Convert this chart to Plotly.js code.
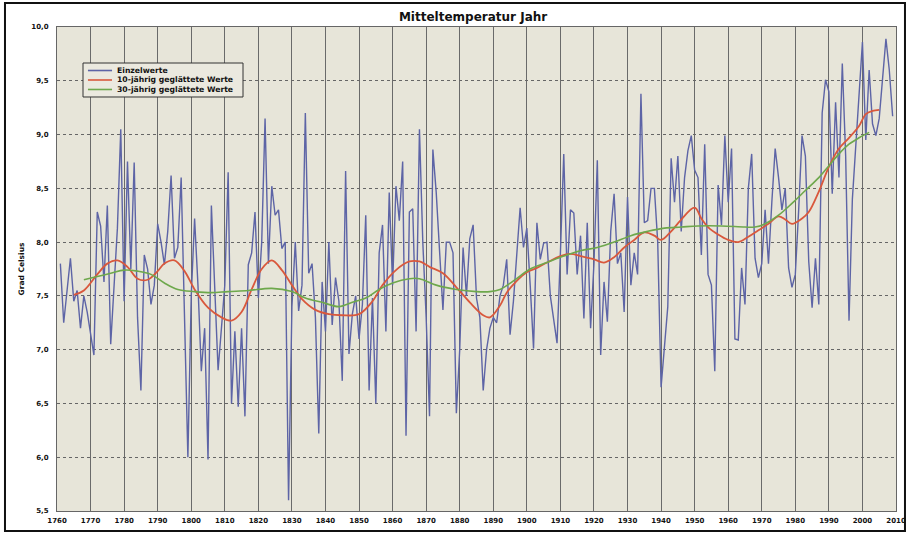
<!DOCTYPE html>
<html>
<head>
<meta charset="utf-8">
<script src="https://cdn.plot.ly/plotly-3.0.1.min.js"></script>
<style>
html,body{margin:0;padding:0;background:#ffffff;}
#chart{width:908px;height:540px;}
</style>
</head>
<body>
<div id="chart"></div>
<script>
// ---- data ----
const years = [
  1761,1762,1763,1764,1765,1766,1767,1768,1769,1770,
  1771,1772,1773,1774,1775,1776,1777,1778,1779,1780,
  1781,1782,1783,1784,1785,1786,1787,1788,1789,1790,
  1791,1792,1793,1794,1795,1796,1797,1798,1799,1800,
  1801,1802,1803,1804,1805,1806,1807,1808,1809,1810,
  1811,1812,1813,1814,1815,1816,1817,1818,1819,1820,
  1821,1822,1823,1824,1825,1826,1827,1828,1829,1830,
  1831,1832,1833,1834,1835,1836,1837,1838,1839,1840,
  1841,1842,1843,1844,1845,1846,1847,1848,1849,1850,
  1851,1852,1853,1854,1855,1856,1857,1858,1859,1860,
  1861,1862,1863,1864,1865,1866,1867,1868,1869,1870,
  1871,1872,1873,1874,1875,1876,1877,1878,1879,1880,
  1881,1882,1883,1884,1885,1886,1887,1888,1889,1890,
  1891,1892,1893,1894,1895,1896,1897,1898,1899,1900,
  1901,1902,1903,1904,1905,1906,1907,1908,1909,1910,
  1911,1912,1913,1914,1915,1916,1917,1918,1919,1920,
  1921,1922,1923,1924,1925,1926,1927,1928,1929,1930,
  1931,1932,1933,1934,1935,1936,1937,1938,1939,1940,
  1941,1942,1943,1944,1945,1946,1947,1948,1949,1950,
  1951,1952,1953,1954,1955,1956,1957,1958,1959,1960,
  1961,1962,1963,1964,1965,1966,1967,1968,1969,1970,
  1971,1972,1973,1974,1975,1976,1977,1978,1979,1980,
  1981,1982,1983,1984,1985,1986,1987,1988,1989,1990,
  1991,1992,1993,1994,1995,1996,1997,1998,1999,2000,
  2001,2002,2003,2004,2005,2006,2007,2008,2009
];
const einzelwerte = [
  7.80,7.25,7.55,7.85,7.45,7.55,7.20,7.50,7.35,7.15,
  6.95,8.28,8.15,7.63,8.34,7.05,7.60,8.13,9.05,7.45,
  8.75,7.75,8.74,7.30,6.62,7.88,7.75,7.42,7.60,8.17,
  8.00,7.79,8.10,8.62,7.85,7.95,8.60,7.30,6.00,7.50,
  8.22,7.60,6.80,7.20,5.98,8.34,7.60,6.81,7.20,7.60,
  8.65,6.50,7.17,6.47,7.20,6.38,7.79,7.90,8.28,7.48,
  8.00,9.15,7.80,8.52,8.25,8.30,7.94,8.00,5.60,7.40,
  8.00,7.36,7.60,9.20,7.71,7.80,7.30,6.22,7.63,7.17,
  8.00,7.23,7.67,7.45,6.71,8.66,6.96,7.33,7.50,7.10,
  7.42,8.25,6.62,7.48,6.50,7.90,8.16,7.17,8.46,7.60,
  8.52,8.20,8.75,6.20,8.28,8.31,7.17,9.05,8.00,7.30,
  6.38,8.86,8.46,7.91,7.37,8.00,8.00,7.90,6.41,7.00,
  7.95,7.50,8.03,8.16,7.48,7.30,6.62,7.00,7.20,7.30,
  7.25,7.50,7.60,7.84,7.14,7.45,7.90,8.32,7.95,8.13,
  7.60,7.01,8.18,7.84,7.99,8.00,7.50,7.30,7.06,7.90,
  8.82,7.70,8.30,8.27,7.70,8.06,7.29,8.18,7.20,7.80,
  8.76,6.95,7.63,7.26,8.10,8.45,7.80,7.90,7.35,8.42,
  7.60,7.90,7.70,9.38,8.18,8.20,8.50,8.50,8.00,6.65,
  7.07,7.40,8.78,8.37,8.80,8.10,8.60,8.85,8.99,8.67,
  8.60,7.88,8.91,7.70,7.60,6.80,8.53,8.16,8.99,8.37,
  8.87,7.10,7.09,7.76,7.42,8.50,8.82,7.85,7.67,7.80,
  8.30,7.80,8.37,8.87,8.60,8.30,8.50,7.76,7.58,7.70,
  8.30,8.99,8.80,7.82,7.39,7.85,7.42,9.20,9.51,9.40,
  8.45,9.30,8.60,9.66,8.80,7.27,8.40,8.90,9.40,9.86,
  8.95,9.60,9.10,8.99,9.15,9.50,9.89,9.60,9.17
];
const smooth10Years = [1765,1768,1772,1775,1778,1781,1784,1787,1790,1792,1795,1798,1801,1805,1809,1812,1815,1818,1821,1824,1827,1830,1833,1837,1841,1845,1850,1854,1857,1861,1865,1868,1871,1875,1879,1883,1887,1889,1892,1894,1897,1900,1903,1906,1910,1913,1916,1920,1923,1926,1929,1932,1935,1938,1940,1943,1946,1950,1952,1954,1957,1960,1963,1966,1969,1972,1975,1977,1979,1982,1984,1987,1990,1993,1996,1999,2001,2003,2005];
const smooth10 = [7.51,7.55,7.70,7.80,7.83,7.77,7.66,7.65,7.73,7.80,7.83,7.73,7.56,7.39,7.30,7.27,7.35,7.56,7.75,7.83,7.74,7.60,7.47,7.37,7.33,7.32,7.33,7.45,7.60,7.74,7.82,7.82,7.77,7.71,7.58,7.44,7.32,7.30,7.41,7.53,7.64,7.72,7.76,7.81,7.87,7.89,7.87,7.84,7.81,7.86,7.95,8.02,8.09,8.06,8.02,8.10,8.21,8.32,8.22,8.14,8.07,8.02,8.00,8.05,8.11,8.17,8.24,8.21,8.17,8.22,8.28,8.47,8.70,8.87,8.97,9.08,9.19,9.22,9.23];
const smooth30Years = [1768,1772,1776,1780,1784,1788,1792,1796,1801,1806,1811,1817,1824,1830,1834,1839,1844,1848,1852,1856,1860,1865,1868,1873,1879,1885,1889,1892,1896,1901,1906,1911,1916,1921,1926,1931,1936,1941,1946,1951,1958,1965,1968,1971,1975,1979,1983,1987,1990,1993,1996,1999,2002];
const smooth30 = [7.65,7.68,7.71,7.74,7.73,7.70,7.62,7.56,7.54,7.53,7.54,7.55,7.57,7.54,7.48,7.44,7.40,7.44,7.48,7.56,7.62,7.66,7.66,7.60,7.56,7.54,7.54,7.56,7.64,7.75,7.81,7.87,7.92,7.95,8.00,8.06,8.10,8.13,8.14,8.15,8.15,8.14,8.14,8.17,8.25,8.36,8.48,8.60,8.71,8.82,8.91,8.97,9.02];
const seriesNames = ['Einzelwerte','10-jährig geglättete Werte','30-jährig geglättete Werte'];
const seriesColors = ['#5d64a6', '#d9583c', '#6ea84c'];
const xTicks = [1760,1770,1780,1790,1800,1810,1820,1830,1840,1850,1860,1870,1880,1890,1900,1910,1920,1930,1940,1950,1960,1970,1980,1990,2000,2010];
const yTicks = [5.5,6.0,6.5,7.0,7.5,8.0,8.5,9.0,9.5,10.0];

const FONT = 'DejaVu Sans, Liberation Sans, Arial, sans-serif';

const traces = [
  {x: years, y: einzelwerte, name: seriesNames[0], type: 'scatter', mode: 'lines',
   line: {color: seriesColors[0], width: 1.4}},
  {x: smooth10Years, y: smooth10, name: seriesNames[1], type: 'scatter', mode: 'lines',
   line: {color: seriesColors[1], width: 1.8, shape: 'spline', smoothing: 1}},
  {x: smooth30Years, y: smooth30, name: seriesNames[2], type: 'scatter', mode: 'lines',
   line: {color: seriesColors[2], width: 1.6, shape: 'spline', smoothing: 1}}
];

// legend drawn as paper-anchored box, line samples and labels
const legBox = {x0: 0.031, x1: 0.2217, y0: 0.8554, y1: 0.9256};
const legRows = [0.9101, 0.8905, 0.8709];
const shapes = [
  {type: 'rect', xref: 'paper', yref: 'paper',
   x0: -0.062, x1: 1.0107, y0: -0.0413, y1: 1.0496,
   line: {color: '#111', width: 2}, fillcolor: 'rgba(0,0,0,0)', layer: 'below'},
  {type: 'rect', xref: 'paper', yref: 'paper',
   x0: legBox.x0, x1: legBox.x1, y0: legBox.y0, y1: legBox.y1,
   line: {color: '#333', width: 1}, fillcolor: '#ebe9df', layer: 'above'}
];
const annotations = [];
seriesNames.forEach((name, i) => {
  shapes.push({type: 'line', xref: 'paper', yref: 'paper',
    x0: 0.0369, x1: 0.0656, y0: legRows[i], y1: legRows[i],
    line: {color: seriesColors[i], width: 1.6}, layer: 'above'});
  annotations.push({xref: 'paper', yref: 'paper', x: 0.0691, y: legRows[i],
    xanchor: 'left', yanchor: 'middle', showarrow: false, text: name,
    font: {family: FONT, size: 7.7, weight: 'bold', color: '#111'}});
});

const layout = {
  width: 908, height: 540,
  margin: {l: 57, r: 12, t: 27, b: 29, pad: 0},
  paper_bgcolor: '#ffffff',
  plot_bgcolor: '#e7e5d9',
  separators: ',.',
  showlegend: false,
  title: {text: 'Mitteltemperatur Jahr', x: 0.521, xanchor: 'center',
          y: 0.9685, yanchor: 'middle', yref: 'container',
          font: {family: FONT, size: 12, weight: 'bold', color: '#111'}},
  xaxis: {
    range: [1760, 2010], tickmode: 'array', tickvals: xTicks, ticktext: xTicks.map(String),
    showgrid: true, gridcolor: '#6a6a6a', gridwidth: 1,
    zeroline: false, showline: true, linecolor: '#666', linewidth: 1, mirror: true,
    ticks: '', ticklabelstandoff: 3,
    tickfont: {family: FONT, size: 7, weight: 'bold', color: '#111'},
    fixedrange: true
  },
  yaxis: {
    range: [5.5, 10.0], tickmode: 'array', tickvals: yTicks, tickformat: '.1f',
    showgrid: true, gridcolor: '#666', gridwidth: 1, griddash: 'dot',
    zeroline: false, showline: true, linecolor: '#666', linewidth: 1, mirror: true,
    ticks: '', ticklabelstandoff: 6,
    tickfont: {family: FONT, size: 7, weight: 'bold', color: '#111'},
    title: {text: 'Grad Celsius', standoff: 5,
            font: {family: FONT, size: 7.5, weight: 'bold', color: '#111'}},
    fixedrange: true
  },
  shapes: shapes,
  annotations: annotations
};

Plotly.newPlot('chart', traces, layout, {displayModeBar: false, staticPlot: true});
</script>
</body>
</html>
